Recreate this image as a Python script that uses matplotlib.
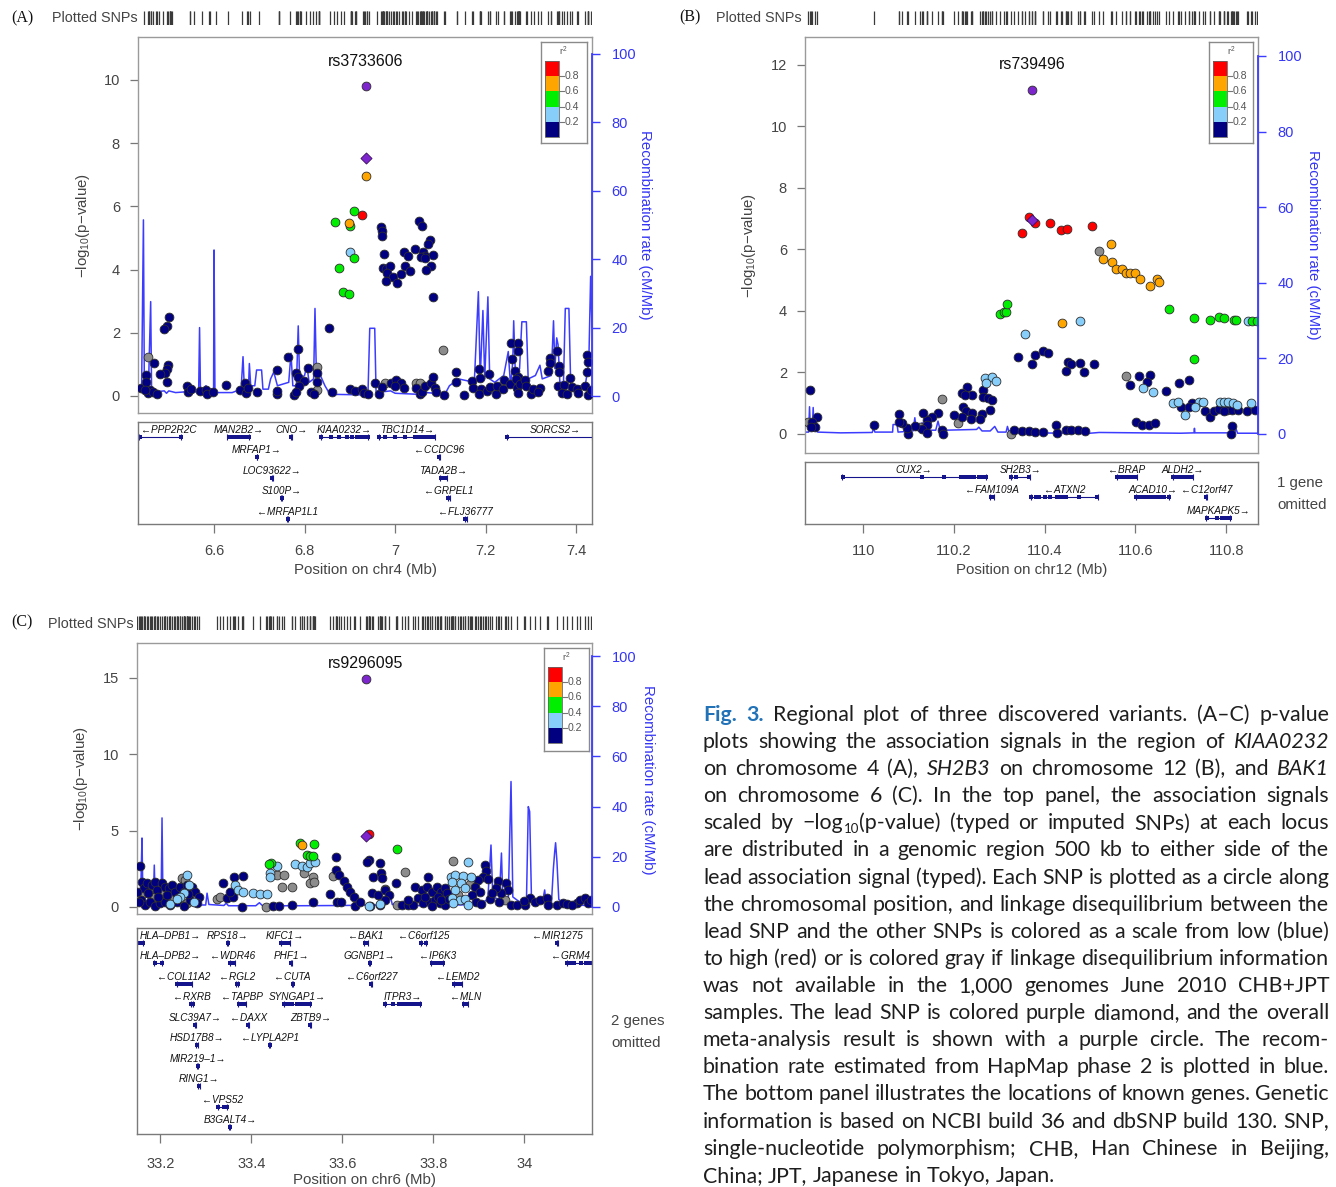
import re
import matplotlib
matplotlib.use('Agg')
import matplotlib.pyplot as plt
from matplotlib.transforms import IdentityTransform, blended_transform_factory
from matplotlib.patches import Rectangle

W, H, DPI = 1336, 1187, 100
plt.rcParams['font.family'] = ['Liberation Sans', 'DejaVu Sans']
plt.rcParams['mathtext.fontset'] = 'custom'
plt.rcParams['mathtext.rm'] = 'Liberation Sans'
plt.rcParams['mathtext.it'] = 'Liberation Sans:italic'
plt.rcParams['mathtext.bf'] = 'Liberation Sans:bold'

# ---------------------------------------------------------------- data
# LD classes: 0 r2<0.2 (navy), 1 0.2-0.4, 2 0.4-0.6, 3 0.6-0.8, 4 >0.8, 9 no LD info (gray)
A_snps = [
    (6.868, 5.51, 2), (6.909, 5.85, 2), (6.926, 5.72, 4), (6.899, 5.46, 3), (6.900, 5.37, 2), (6.900, 4.55, 1),
    (6.910, 4.35, 2), (6.877, 4.04, 2), (6.884, 3.30, 2), (6.898, 3.24, 2), (6.935, 6.95, 3),
    (6.969, 5.34, 0), (6.970, 5.23, 0), (6.970, 5.06, 0), (7.052, 5.54, 0), (7.060, 5.38, 0), (6.976, 4.48, 0),
    (7.019, 4.54, 0), (7.029, 4.44, 0), (7.043, 4.65, 0), (7.076, 4.92, 0), (7.072, 4.80, 0), (7.062, 4.54, 0),
    (7.067, 4.44, 0), (7.084, 4.45, 0), (7.058, 4.41, 0), (7.066, 4.36, 0), (7.080, 4.11, 0), (7.069, 3.99, 0),
    (6.973, 4.06, 0), (6.979, 4.01, 0), (6.988, 4.12, 0), (6.983, 3.90, 0), (6.995, 3.78, 0), (6.979, 3.64, 0),
    (7.005, 3.59, 0), (7.012, 3.85, 0), (7.021, 4.11, 0), (7.034, 3.96, 0), (7.083, 3.14, 0),
    (6.500, 2.51, 0), (6.497, 2.22, 0), (6.490, 2.11, 0), (6.853, 2.16, 0),
    (7.105, 1.45, 9), (6.454, 1.23, 9), (6.828, 0.93, 9), (6.828, 0.19, 9), (6.977, 0.42, 9), (7.047, 0.42, 9),
    (7.054, 0.42, 9),
    (6.467, 1.04, 0), (6.498, 0.98, 0), (6.497, 0.84, 0), (6.492, 0.72, 0), (6.481, 0.69, 0), (6.449, 0.66, 0),
    (6.497, 0.43, 0), (6.763, 1.24, 0), (6.786, 1.47, 0), (6.807, 0.89, 0), (6.828, 0.73, 0), (6.828, 0.45, 0),
    (6.738, 0.82, 0), (6.780, 0.72, 0), (6.786, 0.61, 0), (6.798, 0.47, 0), (6.788, 0.33, 0), (7.255, 1.68, 0),
    (7.272, 1.66, 0), (7.271, 1.42, 0), (7.258, 1.17, 0), (7.343, 1.19, 0), (7.357, 1.43, 0), (7.343, 1.05, 0),
    (7.337, 0.79, 0), (7.361, 0.96, 0), (7.362, 0.77, 0), (7.185, 0.85, 0), (7.135, 0.76, 0), (7.208, 0.71, 0),
    (7.425, 1.28, 0), (7.426, 1.07, 0), (7.425, 0.77, 0), (7.264, 0.79, 0), (7.272, 0.61, 0),
    (6.438, 0.26, 0), (6.450, 0.45, 0), (6.458, 0.19, 0), (6.454, 0.08, 0), (6.465, 0.14, 0), (6.473, 0.06, 0),
    (6.447, 0.19, 0), (6.541, 0.30, 0), (6.542, 0.14, 0), (6.550, 0.22, 0), (6.568, 0.17, 0), (6.583, 0.19, 0),
    (6.585, 0.06, 0), (6.598, 0.13, 0), (6.626, 0.36, 0), (6.657, 0.19, 0), (6.668, 0.42, 0), (6.671, 0.08, 0),
    (6.675, 0.24, 0), (6.695, 0.13, 0), (6.738, 0.06, 0), (6.740, 0.15, 0), (6.777, 0.03, 0), (6.782, 0.14, 0),
    (6.814, 0.13, 0), (6.821, 0.06, 0), (6.861, 0.13, 0), (6.901, 0.22, 0), (6.911, 0.16, 0), (6.927, 0.21, 0),
    (6.931, 0.08, 0), (6.940, 0.05, 0), (6.956, 0.42, 0), (6.965, 0.06, 0), (6.970, 0.27, 0), (6.992, 0.40, 0),
    (7.001, 0.49, 0), (7.014, 0.40, 0), (7.019, 0.24, 0), (6.999, 0.30, 0), (7.046, 0.24, 0), (7.054, 0.06, 0),
    (7.060, 0.11, 0), (7.067, 0.30, 0), (7.080, 0.42, 0), (7.084, 0.59, 0), (7.088, 0.24, 0), (7.090, 0.13, 0),
    (7.108, 0.03, 0), (7.135, 0.45, 0), (7.152, 0.04, 0), (7.169, 0.46, 0), (7.171, 0.24, 0), (7.187, 0.56, 0),
    (7.189, 0.22, 0), (7.185, 0.06, 0), (7.203, 0.15, 0), (7.209, 0.28, 0), (7.222, 0.06, 0), (7.225, 0.32, 0),
    (7.240, 0.49, 0), (7.239, 0.22, 0), (7.253, 0.38, 0), (7.268, 0.53, 0), (7.270, 0.24, 0), (7.275, 0.38, 0),
    (7.272, 0.08, 0), (7.288, 0.51, 0), (7.290, 0.30, 0), (7.300, 0.06, 0), (7.305, 0.22, 0), (7.321, 0.25, 0),
    (7.316, 0.11, 0), (7.360, 0.30, 0), (7.373, 0.35, 0), (7.368, 0.08, 0), (7.379, 0.06, 0), (7.386, 0.56, 0),
    (7.391, 0.27, 0), (7.401, 0.22, 0), (7.404, 0.08, 0), (7.419, 0.30, 0), (7.426, 0.03, 0), (7.432, 0.19, 0),
]
A_lead = (6.935, 9.82, 7.53)      # position, meta-analysis -log10 p, lead SNP -log10 p
A_recomb = [
    (6.432, 2.5), (6.440, 2.5), (6.444, 51.5), (6.446, 3), (6.455, 2), (6.460, 27.6), (6.462, 2), (6.470, 1.2),
    (6.490, 1.5), (6.495, 0.8), (6.500, 1.5), (6.515, 1.0), (6.535, 1.2), (6.566, 1.2), (6.568, 20), (6.570, 1.5),
    (6.582, 3), (6.590, 2), (6.599, 2), (6.600, 42.7), (6.602, 1.0), (6.640, 1.0), (6.650, 1.5), (6.660, 2.5),
    (6.664, 11.5), (6.667, 2), (6.676, 2), (6.678, 9.5), (6.681, 3), (6.690, 3), (6.694, 7.6), (6.705, 7.6),
    (6.708, 2), (6.720, 2), (6.725, 5), (6.732, 7), (6.740, 3), (6.765, 4), (6.770, 12.5), (6.774, 3),
    (6.782, 3), (6.786, 20.5), (6.789, 5), (6.800, 6), (6.805, 9), (6.810, 4), (6.820, 5), (6.823, 25.6),
    (6.826, 7), (6.835, 6), (6.845, 3), (6.856, 0.5), (6.940, 0.3), (6.944, 19.8), (6.955, 19.8), (6.958, 1.0),
    (6.990, 1.5), (7.000, 0.8), (7.050, 0.5), (7.070, 1.0), (7.110, 0.5), (7.120, 3), (7.140, 5), (7.175, 4),
    (7.184, 30.5), (7.188, 5), (7.194, 25), (7.198, 5), (7.205, 29), (7.209, 5), (7.220, 4), (7.240, 6),
    (7.250, 13), (7.255, 3), (7.260, 10), (7.262, 22), (7.266, 5), (7.275, 8), (7.280, 21.7), (7.290, 21.7),
    (7.294, 5), (7.310, 6), (7.320, 9), (7.325, 5), (7.345, 6), (7.350, 22), (7.353, 8), (7.357, 17),
    (7.360, 15), (7.364, 4), (7.372, 4), (7.376, 25.6), (7.384, 25.6), (7.388, 3), (7.420, 3), (7.428, 10),
    (7.432, 35), (7.435, 20),
]
A_genes = [  # name, start, end, strand, row, exons (Mb)
    ('PPP2R2C', 6.435, 6.527, '-', 0, [6.436, 6.526]),
    ('MAN2B2', 6.629, 6.678, '+', 0, [6.632, 6.636, 6.640, 6.644, 6.648, 6.652, 6.656, 6.660, 6.664, 6.668, 6.672, 6.677]),
    ('CNO', 6.770, 6.772, '+', 0, [6.771]),
    ('KIAA0232', 6.836, 6.941, '+', 0, [6.837, 6.858, 6.875, 6.893, 6.905, 6.916, 6.922, 6.931, 6.940]),
    ('TBC1D14', 6.964, 7.088, '+', 0, [6.965, 6.977, 7.000, 7.022, 7.043, 7.050, 7.055, 7.060, 7.064, 7.071, 7.079, 7.087]),
    ('SORCS2', 7.247, 7.460, '+', 0, [7.248]),
    ('MRFAP1', 6.694, 6.696, '+', 1, [6.695]),
    ('CCDC96', 7.097, 7.099, '-', 1, [7.098]),
    ('LOC93622', 6.728, 6.730, '+', 2, [6.729]),
    ('TADA2B', 7.100, 7.114, '+', 2, [7.101, 7.107, 7.113]),
    ('S100P', 6.749, 6.751, '+', 3, [6.750]),
    ('GRPEL1', 7.116, 7.121, '-', 3, [7.117, 7.120]),
    ('MRFAP1L1', 6.762, 6.764, '-', 4, [6.763]),
    ('FLJ36777', 7.154, 7.158, '-', 4, [7.155, 7.157]),
]
A_xlim, A_ylim, A_rlim = (6.432, 7.435), (-0.54, 11.36), (-4.97, 104.97)
A_yticks = [0, 2, 4, 6, 8, 10]
A_xticks = [6.6, 6.8, 7.0, 7.2, 7.4]
A_xticklabels = ['6.6', '6.8', '7', '7.2', '7.4']

B_snps = [
    (110.366, 7.04, 4), (110.379, 6.86, 4), (110.411, 6.86, 4), (110.435, 6.63, 4), (110.450, 6.67, 4),
    (110.504, 6.76, 4), (110.350, 6.55, 4),
    (110.520, 5.95, 9), (110.579, 1.89, 9), (110.173, 1.13, 9), (110.208, 0.37, 9), (110.125, 0.22, 9),
    (109.878, 0.38, 9), (110.325, 0.00, 9),
    (110.546, 6.17, 3), (110.528, 5.69, 3), (110.549, 5.59, 3), (110.557, 5.38, 3), (110.571, 5.38, 3),
    (110.579, 5.25, 3), (110.587, 5.25, 3), (110.598, 5.25, 3), (110.610, 5.03, 3), (110.631, 4.80, 3),
    (110.647, 5.03, 3), (110.652, 4.93, 3), (110.438, 3.60, 3),
    (110.302, 3.89, 2), (110.311, 3.97, 2), (110.315, 3.97, 2), (110.318, 4.22, 2), (110.674, 4.07, 2),
    (110.730, 3.78, 2), (110.765, 3.70, 2), (110.785, 3.79, 2), (110.794, 3.78, 2), (110.818, 3.71, 2),
    (110.822, 3.71, 2), (110.856, 3.67, 2), (110.867, 3.67, 2), (110.729, 2.45, 2),
    (110.477, 3.67, 1), (110.357, 3.24, 1), (110.848, 3.67, 1), (110.269, 1.81, 1), (110.285, 1.84, 1),
    (110.292, 1.73, 1), (110.271, 1.67, 1), (110.616, 1.51, 1), (110.639, 1.36, 1), (110.682, 1.00, 1),
    (110.693, 1.05, 1), (110.709, 0.60, 1), (110.739, 1.05, 1), (110.748, 1.03, 1), (110.787, 1.03, 1),
    (110.795, 1.03, 1), (110.805, 1.03, 1), (110.815, 1.00, 1), (110.823, 0.94, 1), (110.854, 1.00, 1),
    (110.731, 0.89, 1),
    (109.882, 1.43, 0), (110.342, 2.49, 0), (110.372, 2.29, 0), (110.379, 2.57, 0), (110.396, 2.70, 0),
    (110.408, 2.62, 0), (110.452, 2.33, 0), (110.458, 2.29, 0), (110.447, 2.06, 0), (110.478, 2.32, 0),
    (110.486, 2.03, 0), (110.508, 2.27, 0), (110.607, 1.89, 0), (110.632, 1.91, 0), (110.589, 1.59, 0),
    (110.625, 1.68, 0), (110.668, 1.39, 0), (110.695, 1.65, 0), (110.717, 1.76, 0), (110.228, 1.52, 0),
    (110.217, 1.32, 0), (110.239, 1.27, 0), (110.225, 1.27, 0), (110.265, 1.43, 0), (110.265, 1.21, 0),
    (110.276, 1.16, 0), (110.283, 1.11, 0), (110.280, 0.78, 0), (110.263, 0.65, 0), (110.258, 0.48, 0),
    (110.219, 0.89, 0), (110.227, 0.73, 0), (110.241, 0.67, 0), (110.238, 0.48, 0), (110.217, 0.56, 0),
    (110.200, 0.62, 0), (110.164, 0.67, 0), (110.151, 0.56, 0), (110.140, 0.46, 0), (110.131, 0.69, 0),
    (110.140, 0.29, 0), (110.129, 0.15, 0), (110.140, 0.02, 0), (110.114, 0.26, 0), (110.100, 0.00, 0),
    (110.096, 0.18, 0), (110.085, 0.35, 0), (110.078, 0.40, 0), (110.078, 0.64, 0), (110.173, 0.13, 0),
    (110.177, 0.00, 0), (110.024, 0.29, 0), (109.899, 0.54, 0), (109.887, 0.40, 0), (109.894, 0.24, 0),
    (109.885, 0.24, 0), (110.333, 0.13, 0), (110.350, 0.10, 0), (110.366, 0.10, 0), (110.379, 0.05, 0),
    (110.397, 0.05, 0), (110.425, 0.28, 0), (110.427, 0.03, 0), (110.446, 0.13, 0), (110.457, 0.13, 0),
    (110.473, 0.13, 0), (110.488, 0.11, 0), (110.602, 0.38, 0), (110.615, 0.28, 0), (110.630, 0.28, 0),
    (110.643, 0.35, 0), (110.701, 0.89, 0), (110.724, 1.00, 0), (110.717, 0.87, 0), (110.754, 0.75, 0),
    (110.765, 0.56, 0), (110.774, 0.76, 0), (110.784, 0.80, 0), (110.801, 0.78, 0), (110.812, 0.78, 0),
    (110.827, 0.78, 0), (110.845, 0.75, 0), (110.864, 0.78, 0), (110.794, 0.76, 0), (110.812, 0.27, 0),
    (110.810, 0.00, 0),
]
B_lead = (110.372, 11.17, 6.95)
B_recomb = [
    (109.872, 0.5), (109.880, 0.5), (109.882, 7.2), (109.884, 1), (109.888, 1), (109.890, 7), (109.892, 1),
    (109.897, 1.0), (109.900, 0.5), (109.950, 0.3), (110.020, 0.4), (110.023, 1.5), (110.026, 0.5),
    (110.065, 0.5), (110.066, 2.5), (110.075, 2.5), (110.077, 0.5), (110.110, 0.8), (110.114, 4.3),
    (110.117, 1.0), (110.128, 1.0), (110.130, 3), (110.133, 1), (110.160, 1), (110.165, 3.4), (110.170, 1),
    (110.180, 1.0), (110.250, 1.2), (110.255, 1.8), (110.262, 0.8), (110.280, 0.8), (110.290, 2.0),
    (110.297, 0.5), (110.315, 0.5), (110.318, 2), (110.322, 0.3), (110.500, 0.2), (110.520, 0.4),
    (110.700, 0.2), (110.729, 0.3), (110.730, 1.5), (110.731, 0.3), (110.818, 0.3), (110.822, 1.2),
    (110.825, 0.2), (110.870, 0.2),
]
B_genes = [
    ('CUX2', 109.954, 110.271, '+', 0, [109.955, 110.130, 110.178, 110.215, 110.220, 110.228, 110.235, 110.245, 110.255, 110.262, 110.270]),
    ('SH2B3', 110.325, 110.367, '+', 0, [110.326, 110.336, 110.366]),
    ('BRAP', 110.559, 110.603, '-', 0, [110.560, 110.566, 110.572, 110.578, 110.585, 110.592, 110.600]),
    ('ALDH2', 110.682, 110.726, '+', 0, [110.683, 110.690, 110.697, 110.705, 110.712, 110.718, 110.725]),
    ('FAM109A', 110.280, 110.288, '-', 1, [110.281, 110.287]),
    ('ATXN2', 110.370, 110.517, '-', 1, [110.371, 110.380, 110.387, 110.400, 110.412, 110.428, 110.432, 110.440, 110.447, 110.475, 110.516]),
    ('ACAD10', 110.601, 110.675, '+', 1, [110.602, 110.610, 110.618, 110.624, 110.632, 110.640, 110.648, 110.655, 110.663, 110.674]),
    ('C12orf47', 110.755, 110.757, '-', 1, [110.756]),
    ('MAPKAPK5', 110.756, 110.809, '+', 2, [110.757, 110.780, 110.790, 110.798, 110.804, 110.808]),
]
B_xlim, B_ylim, B_rlim = (109.872, 110.870), (-0.62, 12.91), (-5.03, 105.0)
B_yticks = [0, 2, 4, 6, 8, 10, 12]
B_xticks = [110.0, 110.2, 110.4, 110.6, 110.8]
B_xticklabels = ['110', '110.2', '110.4', '110.6', '110.8']

C_snps = [
    (33.658, 4.80, 4),
    (33.507, 4.21, 2), (33.539, 4.15, 2), (33.511, 4.06, 3), (33.523, 3.40, 2), (33.530, 3.34, 2),
    (33.536, 3.34, 2), (33.444, 2.90, 2), (33.440, 2.79, 2), (33.720, 3.78, 2),
    (33.457, 2.69, 1), (33.441, 2.25, 1), (33.441, 1.94, 1), (33.497, 2.80, 1), (33.512, 2.69, 1),
    (33.523, 2.64, 1), (33.529, 2.86, 1), (33.541, 2.97, 1), (33.405, 0.94, 1), (33.419, 0.85, 1),
    (33.435, 0.85, 1), (33.365, 1.44, 1), (33.372, 1.11, 1), (33.382, 1.00, 1),
    (33.457, 2.10, 9), (33.473, 2.10, 9), (33.468, 1.33, 9), (33.490, 1.33, 9), (33.515, 2.25, 9),
    (33.536, 1.94, 9), (33.530, 1.59, 9), (33.537, 1.66, 9), (33.325, 0.52, 9), (33.331, 0.68, 9),
    (33.433, 0.02, 9), (33.579, 2.03, 9),
    (33.383, 2.05, 0), (33.363, 1.94, 0), (33.338, 1.55, 0), (33.347, 0.57, 0), (33.361, 0.63, 0),
    (33.354, 1.00, 0), (33.380, 0.02, 0), (33.448, 0.09, 0), (33.460, 0.09, 0), (33.490, 0.13, 0),
    (33.535, 0.35, 0), (33.587, 3.25, 0), (33.574, 0.85, 0), (33.589, 0.35, 0), (33.598, 0.35, 0),
    (33.587, 2.42, 0), (33.594, 2.10, 0), (33.603, 1.72, 0), (33.611, 1.33, 0), (33.618, 1.00, 0),
    (33.627, 0.68, 0), (33.629, 0.07, 0), (33.640, 0.35, 0),
    (33.156, 2.69, 0), (33.160, 1.66, 0), (33.165, 1.22, 0), (33.171, 1.55, 0), (33.182, 1.44, 0),
    (33.189, 1.66, 0), (33.194, 1.11, 0), (33.204, 1.55, 0), (33.211, 1.33, 0), (33.219, 1.22, 0),
    (33.226, 1.44, 0), (33.233, 1.00, 0), (33.244, 1.33, 0), (33.252, 1.00, 0), (33.259, 1.44, 0),
    (33.270, 1.33, 0), (33.277, 1.00, 0), (33.285, 0.68, 0), (33.158, 0.46, 0), (33.167, 0.13, 0),
    (33.178, 0.35, 0), (33.189, 0.07, 0), (33.200, 0.24, 0), (33.211, 0.35, 0), (33.222, 0.13, 0),
    (33.237, 0.35, 0), (33.252, 0.07, 0), (33.266, 0.46, 0), (33.281, 0.24, 0), (33.174, 0.90, 0),
    (33.196, 0.68, 0), (33.215, 0.80, 0), (33.240, 0.60, 0), (33.262, 0.85, 0), (33.150, 1.00, 0),
    (33.153, 0.30, 0),
    (33.164, 0.90, 9), (33.186, 0.68, 9), (33.208, 0.90, 9), (33.230, 0.68, 9), (33.248, 1.88, 9),
    (33.255, 1.77, 9), (33.259, 0.24, 9), (33.180, 1.20, 9),
    (33.259, 2.10, 1), (33.263, 1.44, 1), (33.252, 0.90, 1), (33.244, 0.68, 1), (33.221, 0.17, 1),
    (33.274, 0.35, 1), (33.236, 0.50, 1),
    (33.738, 2.27, 9), (33.695, 1.16, 9), (33.720, 0.13, 9), (33.844, 3.03, 9), (33.958, 0.46, 9),
    (33.855, 0.80, 9), (33.880, 1.50, 9),
    (33.659, 3.08, 0), (33.654, 2.97, 0), (33.683, 2.86, 0), (33.685, 2.25, 0), (33.668, 1.94, 0),
    (33.687, 1.88, 0), (33.665, 0.94, 0), (33.679, 0.79, 0), (33.694, 1.11, 0), (33.703, 0.79, 0),
    (33.695, 0.46, 0), (33.683, 0.13, 0), (33.661, 0.07, 0), (33.718, 1.55, 0), (33.731, 0.13, 0),
    (33.745, 0.13, 0), (33.788, 1.94, 0),
    (33.659, 0.07, 1), (33.683, 0.20, 1), (33.876, 2.93, 1),
    (33.839, 1.99, 1), (33.848, 2.10, 1), (33.866, 2.03, 1), (33.883, 1.99, 1), (33.842, 1.66, 1),
    (33.862, 1.55, 1), (33.848, 1.11, 1), (33.870, 1.22, 1), (33.842, 0.57, 1), (33.859, 0.46, 1),
    (33.870, 0.50, 1), (33.844, 0.24, 1), (33.877, 0.13, 1),
    (33.914, 2.75, 0), (33.917, 2.38, 0), (33.910, 1.99, 0), (33.899, 1.77, 0), (33.921, 1.81, 0),
    (33.892, 1.33, 0), (33.903, 1.00, 0), (33.943, 1.72, 0), (33.961, 1.55, 0), (33.965, 1.11, 0),
    (33.950, 0.90, 0), (33.939, 1.22, 0), (33.972, 0.13, 0), (34.002, 0.13, 0), (34.013, 0.57, 0),
    (34.024, 0.35, 0), (34.035, 0.46, 0), (34.049, 0.57, 0), (34.053, 0.13, 0), (34.071, 0.13, 0),
    (34.086, 0.28, 0), (34.115, 0.24, 0), (34.123, 0.46, 0), (34.134, 0.57, 0), (34.141, 0.24, 0),
    (34.146, 0.46, 0),
    (33.760, 1.33, 0), (33.775, 1.11, 0), (33.786, 1.33, 0), (33.797, 1.00, 0), (33.808, 1.33, 0),
    (33.818, 1.00, 0), (33.826, 1.22, 0), (33.767, 0.57, 0), (33.778, 0.24, 0), (33.793, 0.35, 0),
    (33.804, 0.46, 0), (33.815, 0.24, 0), (33.826, 0.13, 0), (33.756, 0.13, 0), (33.782, 0.68, 0),
    (33.797, 0.07, 0), (33.811, 0.68, 0), (33.818, 0.46, 0), (33.745, 0.46, 0), (33.830, 0.90, 0),
    (33.835, 0.50, 0), (33.885, 0.80, 0), (33.895, 0.35, 0), (33.905, 0.20, 0), (33.925, 0.50, 0),
    (33.930, 0.90, 0), (33.945, 0.30, 0), (33.985, 0.15, 0), (34.000, 0.40, 0), (34.095, 0.20, 0),
    (34.105, 0.10, 0),
]
C_lead = (33.652, 14.96, 4.63)
C_recomb = [
    (33.149, 1.0), (33.155, 2), (33.158, 12), (33.160, 27.5), (33.162, 3), (33.170, 2), (33.175, 4),
    (33.178, 2), (33.185, 3), (33.187, 16.7), (33.189, 3), (33.195, 2), (33.202, 3), (33.204, 35.5),
    (33.206, 3), (33.215, 2), (33.230, 1.5), (33.250, 1.0), (33.270, 0.8), (33.300, 0.8), (33.303, 5.5),
    (33.307, 1), (33.340, 0.6), (33.345, 1.5), (33.350, 0.5), (33.410, 0.5), (33.418, 1.7), (33.425, 0.5),
    (33.500, 0.5), (33.600, 0.6), (33.680, 0.8), (33.700, 2), (33.705, 5), (33.710, 1), (33.750, 0.5),
    (33.850, 0.8), (33.900, 1), (33.920, 3), (33.927, 24.7), (33.931, 4), (33.945, 3), (33.950, 21.5),
    (33.953, 3), (33.965, 3), (33.971, 50), (33.975, 4), (33.990, 2), (34.005, 3), (34.009, 40),
    (34.012, 38), (34.016, 3), (34.040, 2), (34.045, 6.8), (34.048, 1), (34.060, 2), (34.064, 15),
    (34.067, 22), (34.069, 25.6), (34.072, 18), (34.076, 3), (34.090, 1), (34.149, 0.5),
]
C_genes = [
    ('HLA\u2013DPB1', 33.149, 33.163, '+', 0, [33.150, 33.156, 33.162]),
    ('RPS18', 33.347, 33.349, '+', 0, [33.348]),
    ('KIFC1', 33.465, 33.485, '+', 0, [33.466, 33.475, 33.480, 33.484]),
    ('BAK1', 33.648, 33.656, '-', 0, [33.649, 33.655]),
    ('C6orf125', 33.773, 33.785, '-', 0, [33.774, 33.784]),
    ('MIR1275', 34.072, 34.074, '-', 0, [34.073]),
    ('HLA\u2013DPB2', 33.187, 33.204, '+', 1, [33.188, 33.203]),
    ('WDR46', 33.353, 33.364, '-', 1, [33.354, 33.363]),
    ('PHF1', 33.487, 33.490, '+', 1, [33.488]),
    ('GGNBP1', 33.659, 33.662, '+', 1, [33.660]),
    ('IP6K3', 33.796, 33.822, '-', 1, [33.797, 33.803, 33.812, 33.821]),
    ('GRM4', 34.093, 34.170, '-', 1, [34.094, 34.100, 34.110, 34.125, 34.135, 34.145]),
    ('COL11A2', 33.236, 33.269, '-', 2, [33.237, 33.241, 33.245, 33.249, 33.253, 33.257, 33.261, 33.265, 33.268]),
    ('RGL2', 33.367, 33.371, '-', 2, [33.368, 33.370]),
    ('CUTA', 33.490, 33.492, '-', 2, [33.491]),
    ('C6orf227', 33.663, 33.666, '-', 2, [33.664]),
    ('LEMD2', 33.845, 33.863, '-', 2, [33.846, 33.850, 33.855, 33.860, 33.862]),
    ('RXRB', 33.267, 33.273, '-', 3, [33.268, 33.270, 33.272]),
    ('TAPBP', 33.372, 33.388, '-', 3, [33.373, 33.380, 33.387]),
    ('SYNGAP1', 33.472, 33.530, '+', 3, [33.473, 33.480, 33.490, 33.500, 33.505, 33.510, 33.515, 33.520, 33.525, 33.529]),
    ('ITPR3', 33.694, 33.772, '+', 3, [33.695, 33.712, 33.725, 33.733, 33.740, 33.745, 33.750, 33.755, 33.760, 33.765, 33.770]),
    ('MLN', 33.866, 33.876, '-', 3, [33.867, 33.875]),
    ('SLC39A7', 33.276, 33.279, '+', 4, [33.277]),
    ('DAXX', 33.393, 33.396, '-', 4, [33.394]),
    ('ZBTB9', 33.529, 33.532, '+', 4, [33.530]),
    ('HSD17B8', 33.279, 33.282, '+', 5, [33.280]),
    ('LYPLA2P1', 33.440, 33.442, '-', 5, [33.441]),
    ('MIR219\u20131', 33.281, 33.283, '+', 6, [33.282]),
    ('RING1', 33.284, 33.287, '+', 7, [33.285]),
    ('VPS52', 33.326, 33.347, '-', 8, [33.327, 33.340, 33.343, 33.346]),
    ('B3GALT4', 33.352, 33.354, '+', 9, [33.353]),
]
C_xlim, C_ylim, C_rlim = (33.149, 34.149), (-0.46, 17.29), (-2.79, 105.2)
C_yticks = [0, 5, 10, 15]
C_xticks = [33.2, 33.4, 33.6, 33.8, 34.0]
C_xticklabels = ['33.2', '33.4', '33.6', '33.8', '34']

R_TICKS = [0, 20, 40, 60, 80, 100]
LEGEND_LABELS = ['0.8', '0.6', '0.4', '0.2']

CAPTION = [
    "#Fig.# #3.# Regional plot of three discovered variants. (A\u2013C) p-value",
    "plots showing the association signals in the region of *KIAA0232*",
    "on chromosome 4 (A), *SH2B3* on chromosome 12 (B), and *BAK1*",
    "on chromosome 6 (C). In the top panel, the association signals",
    "scaled by \u2212log~10~(p-value) (typed or imputed SNPs) at each locus",
    "are distributed in a genomic region 500 kb to either side of the",
    "lead association signal (typed). Each SNP is plotted as a circle along",
    "the chromosomal position, and linkage disequilibrium between the",
    "lead SNP and the other SNPs is colored as a scale from low (blue)",
    "to high (red) or is colored gray if linkage disequilibrium information",
    "was not available in the 1,000 genomes June 2010 CHB+JPT",
    "samples. The lead SNP is colored purple diamond, and the overall",
    "meta-analysis result is shown with a purple circle. The recom-",
    "bination rate estimated from HapMap phase 2 is plotted in blue.",
    "The bottom panel illustrates the locations of known genes. Genetic",
    "information is based on NCBI build 36 and dbSNP build 130. SNP,",
    "single-nucleotide polymorphism; CHB, Han Chinese in Beijing,",
    "China; JPT, Japanese in Tokyo, Japan.",
]

# ---------------------------------------------------------------- styles
LD_COLORS = {9: '#8c8c8c', 0: '#000080', 1: '#87CEFA', 2: '#00EE00', 3: '#FFA500', 4: '#FF0000'}
LEGEND_COLORS = ['#FF0000', '#FFA500', '#00EE00', '#87CEFA', '#000080']
PURPLE = '#7D26CD'
RECOMB = '#3c3cff'
BLUE_TXT = '#3535f5'
GENE_COL = '#14148c'
BOX_COL = '#9a9a9a'
TXT_GRAY = '#444444'
FIG_BLUE = '#2272b8'

fig = plt.figure(figsize=(W / DPI, H / DPI), dpi=DPI)
fig.patch.set_facecolor('white')
REND = fig.canvas.get_renderer()
ID = IdentityTransform()


def px_axes(x0, y0, x1, y1):
    return fig.add_axes([x0 / W, 1 - y1 / H, (x1 - x0) / W, (y1 - y0) / H])


def ftext(x, y, s, **kw):
    return fig.text(x, H - y, s, transform=ID, **kw)


def text_w(t):
    return t.get_window_extent(REND).width


def style_box(ax, col=BOX_COL):
    for s in ax.spines.values():
        s.set_color(col)
        s.set_linewidth(1.0)


def draw_legend(box):
    x0, y0, x1, y1 = box
    lax = px_axes(x0, y0, x1, y1)
    lax.set_zorder(10)
    lax.set_xlim(0, x1 - x0)
    lax.set_ylim(y1 - y0, 0)
    lax.set_xticks([])
    lax.set_yticks([])
    style_box(lax, '#8a8a8a')
    cx0, cw, ctop, cell = 4, 14, 19, 15.2
    for i, c in enumerate(LEGEND_COLORS):
        lax.add_patch(Rectangle((cx0, ctop + i * cell), cw, cell, facecolor=c, edgecolor='none'))
    lax.add_patch(Rectangle((cx0, ctop), cw, 5 * cell, fill=False, edgecolor='#666666', lw=0.6))
    for i, lab in enumerate(LEGEND_LABELS):
        yy = ctop + (i + 1) * cell
        lax.plot([cx0 + cw, cx0 + cw + 4.5], [yy, yy], color='#777777', lw=0.8)
        lax.text(cx0 + cw + 5.5, yy, lab, va='center', ha='left', fontsize=7.6, color='#555555')
    lax.text(cx0 + cw + 4, 9, 'r$^2$', va='center', ha='center', fontsize=6.8, color='#555555')


def draw_genes(gax, genes, xlim, box):
    x0, y0, x1, y1 = box
    inv = gax.transData.inverted()
    for name, start, end, strand, row, exons in genes:
        yg = 14.9 + 20.45 * row
        yl = 8.0 + 20.45 * row
        s, e = max(start, xlim[0]), min(end, xlim[1])
        gax.plot([s, e], [yg, yg], color=GENE_COL, lw=0.8, solid_capstyle='butt')
        gax.plot([s, e], [yg, yg], ls='none', marker='|', ms=4, mew=0.8, color=GENE_COL)
        gax.plot(exons, [yg] * len(exons), ls='none', marker='s', ms=2.8, mew=0, color=GENE_COL)
        label = ('\u2190' + name) if strand == '-' else (name + '\u2192')
        cx = (start + end) / 2
        t = gax.text(cx, yl, label, ha='center', va='center', fontsize=7.2, style='italic', color='#111111')
        w = text_w(t)
        cpx = gax.transData.transform((cx, yl))[0]
        if cpx - w / 2 < x0 + 3:
            t.set_x(inv.transform((x0 + 3, 0))[0])
            t.set_ha('left')
        elif cpx + w / 2 > x1 - 2:
            t.set_x(inv.transform((x1 - 2, 0))[0])
            t.set_ha('right')


def draw_panel(P):
    mx0, my0, mx1, my1 = P['main']
    gx0, gy0, gx1, gy1 = P['gene']
    ax2 = px_axes(mx0, my0, mx1, my1)       # recombination line (below)
    ax = px_axes(mx0, my0, mx1, my1)        # SNPs
    ax3 = px_axes(mx0, my0, mx1, my1)       # right axis
    ax2.set_zorder(1); ax.set_zorder(2); ax3.set_zorder(3)
    ax.patch.set_visible(False); ax3.patch.set_visible(False)
    for a in (ax, ax2, ax3):
        a.set_xlim(P['xlim'])
        a.set_xticks([])
    ax.set_ylim(P['ylim'])
    ax2.set_ylim(P['rlim']); ax3.set_ylim(P['rlim'])

    rp = [r[0] for r in P['recomb']]
    rr = [r[1] for r in P['recomb']]
    ax2.plot(rp, rr, color=RECOMB, lw=1.1)
    ax2.set_yticks([])
    for s in ax2.spines.values():
        s.set_visible(False)

    style_box(ax)
    ax.set_yticks(P['yticks'])
    ax.tick_params(axis='y', direction='out', length=6, width=0.9, color='#777777',
                   labelcolor=TXT_GRAY, labelsize=10.5, pad=7)

    for s in ('left', 'top', 'bottom'):
        ax3.spines[s].set_visible(False)
    ax3.spines['right'].set_color(RECOMB)
    ax3.spines['right'].set_linewidth(1.3)
    ax3.spines['right'].set_bounds(0, 100)
    ax3.yaxis.tick_right()
    ax3.set_yticks(R_TICKS)
    ax3.tick_params(axis='y', direction='out', length=6, width=1.0, color=RECOMB,
                    labelcolor=BLUE_TXT, labelsize=10.5, pad=8)

    snps = P['snps']
    for cls in (9, 0, 1, 2, 3, 4):
        xs = [s[0] for s in snps if s[2] == cls]
        ys = [s[1] for s in snps if s[2] == cls]
        ax.scatter(xs, ys, s=40, c=LD_COLORS[cls], edgecolors='#2e2e2e', linewidths=0.6, zorder=3)
    lp, lmeta, llead = P['lead']
    ax.scatter([lp], [llead], s=32, marker='D', c=PURPLE, edgecolors='#3a1060', linewidths=0.6, zorder=5)
    ax.scatter([lp], [lmeta], s=40, c=PURPLE, edgecolors='#2e2e2e', linewidths=0.6, zorder=5)
    tr = blended_transform_factory(ax.transData, ax.transAxes)
    ax.text(lp, P['title_y'], P['rsid'], transform=tr, ha='center', va='center', fontsize=11.5, color='#111111')

    # axis labels
    ftext(P['ylab_x'], (my0 + my1) / 2, '\u2212log$_{10}$(p\u2212value)', rotation=90, ha='center',
          va='center', fontsize=10.8, color=TXT_GRAY)
    ftext(P['rlab_x'], P['rlab_y'], 'Recombination rate (cM/Mb)', rotation=270, ha='center',
          va='center', fontsize=10.8, color=BLUE_TXT)

    # legend
    draw_legend(P['legend'])

    # gene panel
    gax = px_axes(gx0, gy0, gx1, gy1)
    gax.set_xlim(P['xlim'])
    gax.set_ylim(gy1 - gy0, 0)
    gax.set_yticks([])
    style_box(gax, '#7a7a7a')
    gax.set_xticks(P['xticks'])
    gax.set_xticklabels(P['xticklabels'])
    gax.tick_params(axis='x', direction='out', length=6.5, width=0.9, color='#777777',
                    labelcolor=TXT_GRAY, labelsize=10.5, pad=P['xpad'])
    draw_genes(gax, P['genes'], P['xlim'], P['gene'])
    ftext((gx0 + gx1) / 2, P['xlab_y'], P['xlabel'], ha='center', va='center', fontsize=10.8, color=TXT_GRAY)

    # plotted SNPs rug
    rx0, ry0, rx1, ry1 = P['rug']
    rax = px_axes(rx0, ry0, rx1, ry1)
    rax.set_xlim(P['xlim'])
    rax.set_ylim(0, 1)
    rax.axis('off')
    allpos = [s[0] for s in snps] + [lp]
    rax.vlines(allpos, 0, 1, color='#3a3a3a', lw=0.9)
    ftext(rx0 - 3, (ry0 + ry1) / 2 + 0.5, 'Plotted SNPs', ha='right', va='center', fontsize=10.4, color=TXT_GRAY)
    ftext(P['letter_xy'][0], P['letter_xy'][1], P['letter'], ha='left', va='center', fontsize=11.5,
          family=['Liberation Serif', 'DejaVu Serif'], color='#111111')
    if P.get('omitted'):
        ox, oy, lines = P['omitted']
        for k, ln in enumerate(lines):
            ftext(ox, oy + 22 * k, ln, ha='left', va='center', fontsize=10.8, color=TXT_GRAY)


PANELS = [
    dict(letter='(A)', letter_xy=(11, 18), snps=A_snps, lead=A_lead, rsid='rs3733606', recomb=A_recomb,
         genes=A_genes, xlim=A_xlim, ylim=A_ylim, rlim=A_rlim, yticks=A_yticks, xticks=A_xticks,
         xticklabels=A_xticklabels, xlabel='Position on chr4 (Mb)',
         main=(138, 37, 592, 413), gene=(138, 422, 592, 524), rug=(141, 11, 592, 25),
         legend=(541, 42, 587, 143), title_y=0.934, ylab_x=83, rlab_x=645, rlab_y=225,
         xlab_y=570, xpad=8),
    dict(letter='(B)', letter_xy=(679, 17), snps=B_snps, lead=B_lead, rsid='rs739496', recomb=B_recomb,
         genes=B_genes, xlim=B_xlim, ylim=B_ylim, rlim=B_rlim, yticks=B_yticks, xticks=B_xticks,
         xticklabels=B_xticklabels, xlabel='Position on chr12 (Mb)',
         main=(805, 37, 1258, 453), gene=(805, 462, 1258, 524), rug=(805, 11, 1258, 25),
         legend=(1209, 42, 1253, 143), title_y=0.935, ylab_x=749, rlab_x=1313, rlab_y=245,
         xlab_y=570, xpad=8, omitted=(1277, 483, ['1 gene', 'omitted'])),
    dict(letter='(C)', letter_xy=(11, 622), snps=C_snps, lead=C_lead, rsid='rs9296095', recomb=C_recomb,
         genes=C_genes, xlim=C_xlim, ylim=C_ylim, rlim=C_rlim, yticks=C_yticks, xticks=C_xticks,
         xticklabels=C_xticklabels, xlabel='Position on chr6 (Mb)',
         main=(137, 643, 592, 914), gene=(137, 928, 592, 1134), rug=(137, 616, 592, 630),
         legend=(544, 648, 589, 751), title_y=0.926, ylab_x=81, rlab_x=648, rlab_y=780,
         xlab_y=1180, xpad=10, omitted=(611, 1021, ['2 genes', 'omitted'])),
]

for P in PANELS:
    draw_panel(P)

# ---------------------------------------------------------------- caption (justified)
CAP_FONT = ['Lato', 'DejaVu Sans']
CX0, CX1 = 703, 1329
BASE0, LSTEP = 721, 27.1


def parse_word(w):
    segs = []
    for m in re.findall(r'\*[^*]+\*|~[^~]+~|#[^#]+#|[^*~#]+', w):
        if m.startswith('*'):
            segs.append((m[1:-1], 'i'))
        elif m.startswith('~'):
            segs.append((m[1:-1], 'sub'))
        elif m.startswith('#'):
            segs.append((m[1:-1], 'b'))
        else:
            segs.append((m, 'n'))
    return segs


def seg_props(st, size):
    p = dict(fontsize=size, family=CAP_FONT, color='#1e1e1e')
    if st == 'i':
        p['style'] = 'italic'
    elif st == 'b':
        p.update(weight='bold', color=FIG_BLUE)
    elif st == 'sub':
        p['fontsize'] = size * 0.62
    return p


def seg_width(txt, st, size):
    t = fig.text(0, 0, txt, transform=ID, **seg_props(st, size))
    w = text_w(t)
    t.remove()
    return w


def line_words(line, size):
    words = [parse_word(w) for w in line.split(' ')]
    widths = [sum(seg_width(tx, st, size) for tx, st in ws) for ws in words]
    return words, widths


size0 = 13.6
maxnat = 0
for line in CAPTION[:-1]:
    words, widths = line_words(line, size0)
    sp = size0 * DPI / 72 * 0.25
    maxnat = max(maxnat, sum(widths) + sp * (len(words) - 1))
size = size0 * (CX1 - CX0) / maxnat
space = size * DPI / 72 * 0.25

for i, line in enumerate(CAPTION):
    words, widths = line_words(line, size)
    if i == len(CAPTION) - 1:
        gap = space
    else:
        gap = (CX1 - CX0 - sum(widths)) / (len(words) - 1)
    x = CX0
    yb = H - (BASE0 + i * LSTEP)
    for ws, wd in zip(words, widths):
        xx = x
        for tx, st in ws:
            dy = -4 if st == 'sub' else 0
            t = fig.text(xx, yb + dy, tx, transform=ID, ha='left', va='baseline', **seg_props(st, size))
            xx += text_w(t)
        x += wd + gap

fig.savefig('out.png', dpi=DPI, facecolor='white')
